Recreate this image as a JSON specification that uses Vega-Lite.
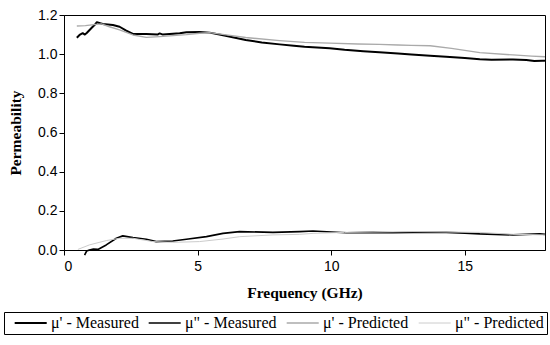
{
  "$schema": "https://vega.github.io/schema/vega-lite/v6.json",
  "autosize": "none",
  "width": 481,
  "height": 235,
  "padding": {"left": 64, "top": 15, "right": 5, "bottom": 95},
  "background": "white",
  "config": {
    "view": {"stroke": "black", "strokeWidth": 1},
    "axis": {
      "domainColor": "black", "tickColor": "black", "labelColor": "black", "titleColor": "black",
      "grid": false, "tickSize": 5, "labelFont": "Liberation Sans", "labelFontSize": 14,
      "titleFont": "Liberation Serif", "titleFontWeight": "bold", "titleFontSize": 15.5
    },
    "legend": {
      "labelFont": "Liberation Serif", "labelFontSize": 16, "labelColor": "black"
    }
  },
  "data": {"values": [
    {"s": "μ' - Measured", "f": 0.48, "v": 1.084},
    {"s": "μ' - Measured", "f": 0.6, "v": 1.1},
    {"s": "μ' - Measured", "f": 0.7, "v": 1.107},
    {"s": "μ' - Measured", "f": 0.78, "v": 1.1},
    {"s": "μ' - Measured", "f": 0.85, "v": 1.108},
    {"s": "μ' - Measured", "f": 1.02, "v": 1.132},
    {"s": "μ' - Measured", "f": 1.15, "v": 1.15},
    {"s": "μ' - Measured", "f": 1.23, "v": 1.163},
    {"s": "μ' - Measured", "f": 1.35, "v": 1.158},
    {"s": "μ' - Measured", "f": 1.45, "v": 1.154},
    {"s": "μ' - Measured", "f": 1.83, "v": 1.149},
    {"s": "μ' - Measured", "f": 2.08, "v": 1.14},
    {"s": "μ' - Measured", "f": 2.33, "v": 1.12},
    {"s": "μ' - Measured", "f": 2.58, "v": 1.103},
    {"s": "μ' - Measured", "f": 3.08, "v": 1.103},
    {"s": "μ' - Measured", "f": 3.5, "v": 1.1},
    {"s": "μ' - Measured", "f": 3.58, "v": 1.106},
    {"s": "μ' - Measured", "f": 3.7, "v": 1.1},
    {"s": "μ' - Measured", "f": 4.33, "v": 1.107},
    {"s": "μ' - Measured", "f": 4.58, "v": 1.112},
    {"s": "μ' - Measured", "f": 5.07, "v": 1.113},
    {"s": "μ' - Measured", "f": 5.45, "v": 1.11},
    {"s": "μ' - Measured", "f": 6.0, "v": 1.095},
    {"s": "μ' - Measured", "f": 6.8, "v": 1.072},
    {"s": "μ' - Measured", "f": 7.4, "v": 1.06},
    {"s": "μ' - Measured", "f": 8.07, "v": 1.05},
    {"s": "μ' - Measured", "f": 8.6, "v": 1.043},
    {"s": "μ' - Measured", "f": 9.0, "v": 1.038},
    {"s": "μ' - Measured", "f": 9.94, "v": 1.03},
    {"s": "μ' - Measured", "f": 10.5, "v": 1.022},
    {"s": "μ' - Measured", "f": 11.2, "v": 1.015},
    {"s": "μ' - Measured", "f": 11.8, "v": 1.01},
    {"s": "μ' - Measured", "f": 12.5, "v": 1.003},
    {"s": "μ' - Measured", "f": 13.0, "v": 0.998},
    {"s": "μ' - Measured", "f": 13.7, "v": 0.992},
    {"s": "μ' - Measured", "f": 14.3, "v": 0.987},
    {"s": "μ' - Measured", "f": 15.0, "v": 0.98},
    {"s": "μ' - Measured", "f": 15.56, "v": 0.974},
    {"s": "μ' - Measured", "f": 16.0, "v": 0.972},
    {"s": "μ' - Measured", "f": 16.8, "v": 0.973},
    {"s": "μ' - Measured", "f": 17.3, "v": 0.97},
    {"s": "μ' - Measured", "f": 17.6, "v": 0.965},
    {"s": "μ' - Measured", "f": 17.9, "v": 0.967},
    {"s": "μ' - Measured", "f": 18.0, "v": 0.966},

    {"s": "μ\" - Measured", "f": 0.77, "v": -0.026},
    {"s": "μ\" - Measured", "f": 0.85, "v": -0.005},
    {"s": "μ\" - Measured", "f": 0.95, "v": 0.0},
    {"s": "μ\" - Measured", "f": 1.1, "v": 0.005},
    {"s": "μ\" - Measured", "f": 1.27, "v": 0.003},
    {"s": "μ\" - Measured", "f": 1.58, "v": 0.026},
    {"s": "μ\" - Measured", "f": 1.96, "v": 0.06},
    {"s": "μ\" - Measured", "f": 2.2, "v": 0.072},
    {"s": "μ\" - Measured", "f": 2.58, "v": 0.063},
    {"s": "μ\" - Measured", "f": 3.08, "v": 0.055},
    {"s": "μ\" - Measured", "f": 3.45, "v": 0.043},
    {"s": "μ\" - Measured", "f": 4.07, "v": 0.046},
    {"s": "μ\" - Measured", "f": 4.58, "v": 0.055},
    {"s": "μ\" - Measured", "f": 5.33, "v": 0.068},
    {"s": "μ\" - Measured", "f": 5.95, "v": 0.085},
    {"s": "μ\" - Measured", "f": 6.57, "v": 0.094},
    {"s": "μ\" - Measured", "f": 7.82, "v": 0.09},
    {"s": "μ\" - Measured", "f": 8.82, "v": 0.094},
    {"s": "μ\" - Measured", "f": 9.32, "v": 0.097},
    {"s": "μ\" - Measured", "f": 10.0, "v": 0.092},
    {"s": "μ\" - Measured", "f": 10.57, "v": 0.088},
    {"s": "μ\" - Measured", "f": 11.57, "v": 0.09},
    {"s": "μ\" - Measured", "f": 12.3, "v": 0.088},
    {"s": "μ\" - Measured", "f": 13.06, "v": 0.09},
    {"s": "μ\" - Measured", "f": 14.3, "v": 0.09},
    {"s": "μ\" - Measured", "f": 15.0, "v": 0.086},
    {"s": "μ\" - Measured", "f": 15.56, "v": 0.082},
    {"s": "μ\" - Measured", "f": 16.8, "v": 0.077},
    {"s": "μ\" - Measured", "f": 17.3, "v": 0.08},
    {"s": "μ\" - Measured", "f": 17.8, "v": 0.082},
    {"s": "μ\" - Measured", "f": 18.0, "v": 0.08},

    {"s": "μ' - Predicted", "f": 0.48, "v": 1.144},
    {"s": "μ' - Predicted", "f": 0.8, "v": 1.146},
    {"s": "μ' - Predicted", "f": 1.2, "v": 1.152},
    {"s": "μ' - Predicted", "f": 1.4, "v": 1.155},
    {"s": "μ' - Predicted", "f": 1.7, "v": 1.14},
    {"s": "μ' - Predicted", "f": 2.08, "v": 1.124},
    {"s": "μ' - Predicted", "f": 2.58, "v": 1.098},
    {"s": "μ' - Predicted", "f": 3.08, "v": 1.086},
    {"s": "μ' - Predicted", "f": 3.58, "v": 1.09},
    {"s": "μ' - Predicted", "f": 4.58, "v": 1.1},
    {"s": "μ' - Predicted", "f": 5.07, "v": 1.107},
    {"s": "μ' - Predicted", "f": 5.45, "v": 1.11},
    {"s": "μ' - Predicted", "f": 6.0, "v": 1.1},
    {"s": "μ' - Predicted", "f": 6.8, "v": 1.085},
    {"s": "μ' - Predicted", "f": 8.07, "v": 1.069},
    {"s": "μ' - Predicted", "f": 9.0, "v": 1.06},
    {"s": "μ' - Predicted", "f": 9.94, "v": 1.056},
    {"s": "μ' - Predicted", "f": 11.0, "v": 1.052},
    {"s": "μ' - Predicted", "f": 11.8, "v": 1.05},
    {"s": "μ' - Predicted", "f": 12.5, "v": 1.047},
    {"s": "μ' - Predicted", "f": 13.0, "v": 1.045},
    {"s": "μ' - Predicted", "f": 13.7, "v": 1.043},
    {"s": "μ' - Predicted", "f": 14.5, "v": 1.03},
    {"s": "μ' - Predicted", "f": 15.56, "v": 1.008},
    {"s": "μ' - Predicted", "f": 16.8, "v": 0.996},
    {"s": "μ' - Predicted", "f": 17.5, "v": 0.99},
    {"s": "μ' - Predicted", "f": 18.0, "v": 0.987},

    {"s": "μ\" - Predicted", "f": 0.52, "v": 0.003},
    {"s": "μ\" - Predicted", "f": 0.95, "v": 0.026},
    {"s": "μ\" - Predicted", "f": 1.58, "v": 0.048},
    {"s": "μ\" - Predicted", "f": 2.08, "v": 0.06},
    {"s": "μ\" - Predicted", "f": 2.58, "v": 0.06},
    {"s": "μ\" - Predicted", "f": 3.33, "v": 0.043},
    {"s": "μ\" - Predicted", "f": 4.07, "v": 0.039},
    {"s": "μ\" - Predicted", "f": 5.07, "v": 0.043},
    {"s": "μ\" - Predicted", "f": 5.95, "v": 0.056},
    {"s": "μ\" - Predicted", "f": 6.57, "v": 0.068},
    {"s": "μ\" - Predicted", "f": 7.82, "v": 0.077},
    {"s": "μ\" - Predicted", "f": 8.82, "v": 0.08},
    {"s": "μ\" - Predicted", "f": 9.32, "v": 0.085},
    {"s": "μ\" - Predicted", "f": 10.5, "v": 0.09},
    {"s": "μ\" - Predicted", "f": 13.06, "v": 0.094},
    {"s": "μ\" - Predicted", "f": 15.56, "v": 0.09},
    {"s": "μ\" - Predicted", "f": 16.8, "v": 0.08},
    {"s": "μ\" - Predicted", "f": 18.0, "v": 0.077}
  ]},
  "mark": {"type": "line", "strokeJoin": "round"},
  "encoding": {
    "x": {
      "field": "f", "type": "quantitative",
      "scale": {"domain": [0, 18], "nice": false},
      "axis": {"values": [0, 5, 10, 15], "title": "Frequency (GHz)", "titlePadding": 12, "labelPadding": 4}
    },
    "y": {
      "field": "v", "type": "quantitative",
      "scale": {"domain": [0, 1.2], "nice": false},
      "axis": {"values": [0, 0.2, 0.4, 0.6, 0.8, 1.0, 1.2], "format": ".1f", "title": "Permeability", "titlePadding": 14}
    },
    "color": {
      "field": "s", "type": "nominal",
      "scale": {
        "domain": ["μ' - Measured", "μ\" - Measured", "μ' - Predicted", "μ\" - Predicted"],
        "range": ["#000000", "#000000", "#aaaaaa", "#cccccc"]
      },
      "legend": {
        "title": null, "orient": "none", "legendX": -60, "legendY": 297,
        "direction": "horizontal", "columns": 4, "symbolType": "M-0.06,0H5.94",
        "symbolSize": 114, "strokeColor": "black", "padding": 3, "columnPadding": 2,
        "labelOffset": 28, "labelFont": "Liberation Serif", "labelFontSize": 16
      }
    },
    "strokeWidth": {
      "field": "s", "type": "nominal",
      "scale": {
        "domain": ["μ' - Measured", "μ\" - Measured", "μ' - Predicted", "μ\" - Predicted"],
        "range": [2, 1, 2, 1.2]
      },
      "legend": {
        "title": null, "orient": "none", "legendX": -60, "legendY": 297,
        "direction": "horizontal", "columns": 4, "symbolType": "M-0.06,0H5.94",
        "symbolSize": 114, "strokeColor": "black", "padding": 3, "columnPadding": 2,
        "labelOffset": 28, "labelFont": "Liberation Serif", "labelFontSize": 16
      }
    },
    "order": {"field": "f", "type": "quantitative"}
  }
}
